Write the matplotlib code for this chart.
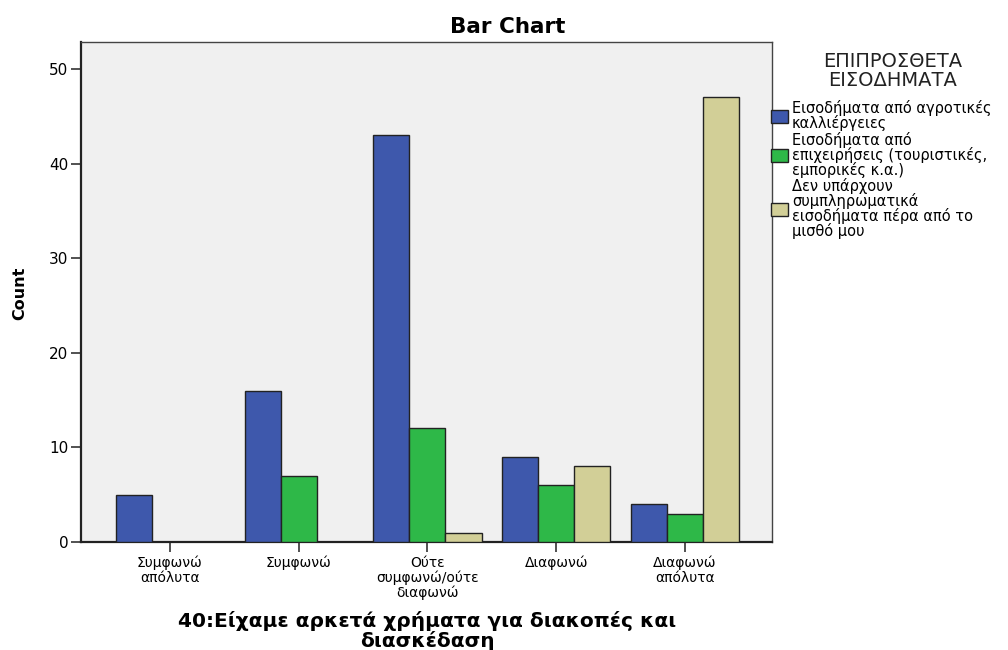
import matplotlib
matplotlib.use("Agg")
import matplotlib.pyplot as plt
import numpy as np
from matplotlib.patches import Patch

plt.rcParams['font.family'] = ['DejaVu Sans']

categories = ["Συμφωνώ\nαπόλυτα", "Συμφωνώ", "Ούτε\nσυμφωνώ/ούτε\nδιαφωνώ",
              "Διαφωνώ", "Διαφωνώ\nαπόλυτα"]
series_names = ["Εισοδήματα από αγροτικές\nκαλλιέργειες",
                "Εισοδήματα από\nεπιχειρήσεις (τουριστικές,\nεμπορικές κ.α.)",
                "Δεν υπάρχουν\nσυμπληρωματικά\nεισοδήματα πέρα από το\nμισθό μου"]
legend_title = "ΕΠΙΠΡΟΣΘΕΤΑ\nΕΙΣΟΔΗΜΑΤΑ"
agro = [5, 16, 43, 9, 4]
business = [0, 7, 12, 6, 3]
none_extra = [0, 0, 1, 8, 47]
colors = ["#3e58ac", "#2eb848", "#d2cf97"]
yticks = [0, 10, 20, 30, 40, 50]

fig = plt.figure(figsize=(10.08, 6.5), dpi=100)
ax = fig.add_axes([81/1008, 1-542/650, (772-81)/1008, (542-42)/650])
ax.set_facecolor("#f0f0f0")

x = np.arange(len(categories))
w = 0.28
for i, (vals, c) in enumerate(zip([agro, business, none_extra], colors)):
    xs = [xi + (i - 1) * w for xi, v in zip(x, vals) if v > 0]
    vs = [v for v in vals if v > 0]
    ax.bar(xs, vs, width=w, color=c, edgecolor="#222222", linewidth=1.0, zorder=3)

ax.set_xlim(-0.69, 4.675)
ax.set_ylim(0, 52.85)
ax.set_xticks(x)
ax.set_xticklabels(categories, fontsize=10, linespacing=1.05)
ax.set_yticks(yticks)
ax.set_yticklabels([str(t) for t in yticks], fontsize=11)
ax.tick_params(axis='both', direction='out', length=7, width=1.2, color="#333333")
ax.tick_params(axis='x', pad=3)
ax.tick_params(axis='y', pad=2)
for s in ax.spines.values():
    s.set_linewidth(1.0)
    s.set_color("#444444")
ax.spines['left'].set_linewidth(1.6)
ax.spines['bottom'].set_linewidth(1.6)
ax.spines['left'].set_color("#222222")
ax.spines['bottom'].set_color("#222222")

fig.text(20/1008, 1-293/650, "Count", rotation=90, ha='center', va='center',
         fontsize=11.5, fontweight='bold')
fig.text(427/1008, 1-631/650, "40:Είχαμε αρκετά χρήματα για διακοπές και\nδιασκέδαση",
         ha='center', va='center', fontsize=14.5, fontweight='bold', linespacing=0.95)
fig.text(508/1008, 1-27/650, "Bar Chart", ha='center', va='center',
         fontsize=15.5, fontweight='bold')
fig.text(893/1008, 1-71/650, legend_title, ha='center', va='center',
         fontsize=14, color="#222222", linespacing=0.95)

handles = [Patch(facecolor=c, edgecolor="#222222", linewidth=1.0) for c in colors]
leg = fig.legend(handles, series_names, loc='upper left',
                 bbox_to_anchor=(768/1008, 1-97/650), frameon=False,
                 fontsize=10.5,
                 handlelength=1.2, handleheight=0.95, handletextpad=0.25,
                 labelspacing=0.05, borderpad=0.2, borderaxespad=0.0)
for t in leg.get_texts():
    t.set_linespacing(0.92)

fig.savefig("out.png", dpi=100, facecolor="white")
